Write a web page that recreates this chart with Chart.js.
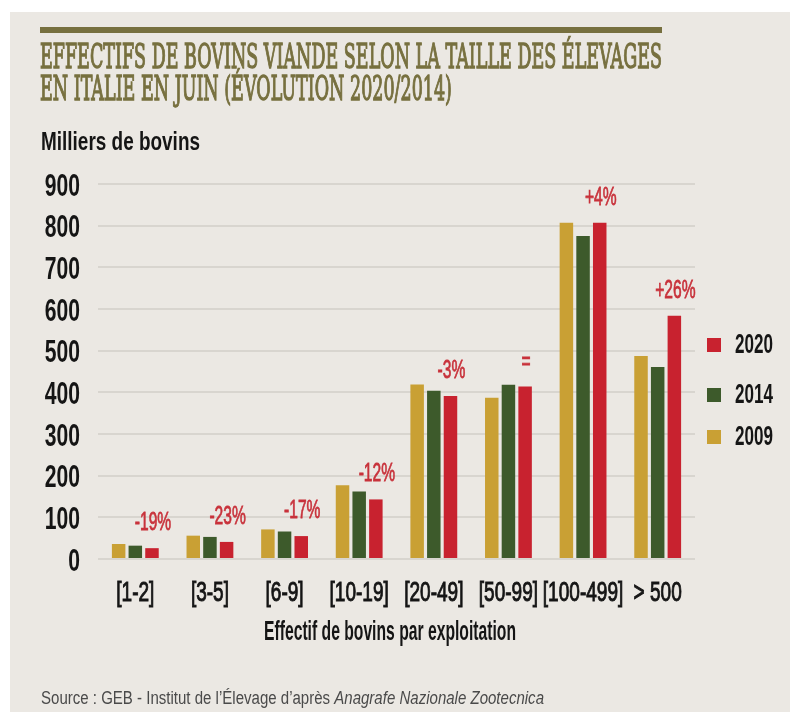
<!DOCTYPE html>
<html lang="fr">
<head>
<meta charset="UTF-8">
<title>Effectifs de bovins viande selon la taille des élevages</title>
<script src="https://cdn.jsdelivr.net/npm/chart.js"></script>
<style>
    body { margin: 0; background: #ffffff; }
    .panel {
        position: absolute; left: 10px; top: 12px;
        width: 780px; height: 700px;
        background: #ebe8e3;
    }
    .chart-container {
        position: absolute; left: 0; top: 0;
        width: 790px; height: 713px;
    }
</style>
</head>
<body>
<div class="panel"></div>
<div class="chart-container"><canvas id="myChart"></canvas></div>

<script>
// données (milliers de bovins)
const categories = ['[1-2]', '[3-5]', '[6-9]', '[10-19]', '[20-49]', '[50-99]', '[100-499]', '> 500'];
const years = ['2009', '2014', '2020'];
const values2009 = [36, 56, 71, 177, 419, 387, 807, 487];
const values2014 = [32, 53, 66, 162, 404, 418, 775, 461];
const values2020 = [26, 41, 55, 143, 391, 414, 807, 584];
const evolution = ['-19%', '-23%', '-17%', '-12%', '-3%', '=', '+4%', '+26%'];
const yTicks = [0, 100, 200, 300, 400, 500, 600, 700, 800, 900];

const titleLines = [
    'EFFECTIFS DE BOVINS VIANDE SELON LA TAILLE DES ÉLEVAGES',
    'EN ITALIE EN JUIN (ÉVOLUTION 2020/2014)'
];
const yUnit = 'Milliers de bovins';
const xTitle = 'Effectif de bovins par exploitation';
const sourceText = 'Source : GEB - Institut de l\u2019Élevage d\u2019après ';
const sourceItalic = 'Anagrafe Nazionale Zootecnica';

const colors = { '2009': '#c9a034', '2014': '#3d5a2b', '2020': '#c8222f' };
const olive = '#77703f';
const labelRed = '#c8323b';

// texte "condensé" : on écrase horizontalement
function drawText(ctx, text, x, y, font, sx, align, color, stroke) {
    ctx.save();
    ctx.font = font;
    ctx.fillStyle = color;
    ctx.textBaseline = 'alphabetic';
    ctx.textAlign = 'left';
    const w = ctx.measureText(text).width * sx;
    let left = x;
    if (align === 'right') left = x - w;
    if (align === 'center') left = x - w / 2;
    ctx.translate(left, y);
    ctx.scale(sx, 1);
    ctx.fillText(text, 0, 0);
    if (stroke) {
        ctx.strokeStyle = color;
        ctx.lineWidth = stroke;
        ctx.strokeText(text, 0, 0);
    }
    ctx.restore();
    return w;
}
function widthOf(ctx, text, font) {
    ctx.save();
    ctx.font = font;
    const w = ctx.measureText(text).width;
    ctx.restore();
    return w;
}

const sans = '"Liberation Sans", Arial, sans-serif';
const serif = '"DejaVu Serif", serif';

const textPlugin = {
    id: 'textes',
    afterDraw(chart) {
        const ctx = chart.ctx;
        const xs = chart.scales.x;
        const ys = chart.scales.y;

        // bandeau + titre
        ctx.fillStyle = olive;
        ctx.fillRect(40, 27, 622, 6);
        const tFont = '34px ' + serif;
        const tsx = 622 / widthOf(ctx, titleLines[0], tFont);
        drawText(ctx, titleLines[0], 40, 68, tFont, tsx, 'left', olive, 1.4);
        drawText(ctx, titleLines[1], 40, 100, tFont, tsx, 'left', olive, 1.4);

        // unité
        const uFont = 'bold 26px ' + sans;
        drawText(ctx, yUnit, 41, 150, uFont, 159 / widthOf(ctx, yUnit, uFont), 'left', '#151515');

        // graduations Y
        yTicks.forEach(v => {
            drawText(ctx, String(v), 80, ys.getPixelForValue(v) + 11.5, 'bold 32px ' + sans, 0.66, 'right', '#151515');
        });

        // catégories X
        categories.forEach((c, i) => {
            drawText(ctx, c, xs.getPixelForValue(i), 601, '28px ' + sans, 0.68, 'center', '#151515', 1);
        });
        const aFont = 'bold 27px ' + sans;
        drawText(ctx, xTitle, 390, 640, aFont, 252 / widthOf(ctx, xTitle, aFont), 'center', '#151515');

        // évolutions au-dessus des barres 2020
        const meta = chart.getDatasetMeta(2);
        meta.data.forEach((bar, i) => {
            drawText(ctx, evolution[i], bar.x + 1, bar.y - 18, '26px ' + sans, 0.6, 'center', labelRed, 0.8);
        });

        // légende (ordre inversé)
        const legendY = [353, 403, 445];
        years.slice().reverse().forEach((yr, k) => {
            ctx.fillStyle = colors[yr];
            ctx.fillRect(707, legendY[k] - 15, 14, 14);
            drawText(ctx, yr, 735, legendY[k], 'bold 28px ' + sans, 0.61, 'left', '#151515');
        });

        // source
        const sFont = '18px ' + sans;
        const siFont = 'italic 18px ' + sans;
        const ssx = 503 / (widthOf(ctx, sourceText, sFont) + widthOf(ctx, sourceItalic, siFont));
        const w1 = drawText(ctx, sourceText, 41, 704, sFont, ssx, 'left', '#4a4a4a');
        drawText(ctx, sourceItalic, 41 + w1, 704, siFont, ssx, 'left', '#4a4a4a');
    }
};

const ctx = document.getElementById('myChart').getContext('2d');
const myChart = new Chart(ctx, {
    type: 'bar',
    data: {
        labels: categories,
        datasets: [
            { label: '2009', data: values2009, backgroundColor: colors['2009'] },
            { label: '2014', data: values2014, backgroundColor: colors['2014'] },
            { label: '2020', data: values2020, backgroundColor: colors['2020'] }
        ]
    },
    options: {
        responsive: true,
        maintainAspectRatio: false,
        animation: false,
        categoryPercentage: 0.67,
        barPercentage: 0.81,
        layout: { padding: { left: 98, right: 95, top: 184, bottom: 154 } },
        plugins: {
            legend: { display: false },
            tooltip: { enabled: false }
        },
        scales: {
            x: {
                grid: { display: false, drawTicks: false },
                border: { display: false },
                ticks: { display: false }
            },
            y: {
                min: 0,
                max: 900,
                ticks: { display: false, stepSize: 100 },
                grid: { color: '#d8d5cf', lineWidth: 2, drawTicks: false },
                border: { display: false }
            }
        }
    },
    plugins: [textPlugin]
});
</script>
</body>
</html>
